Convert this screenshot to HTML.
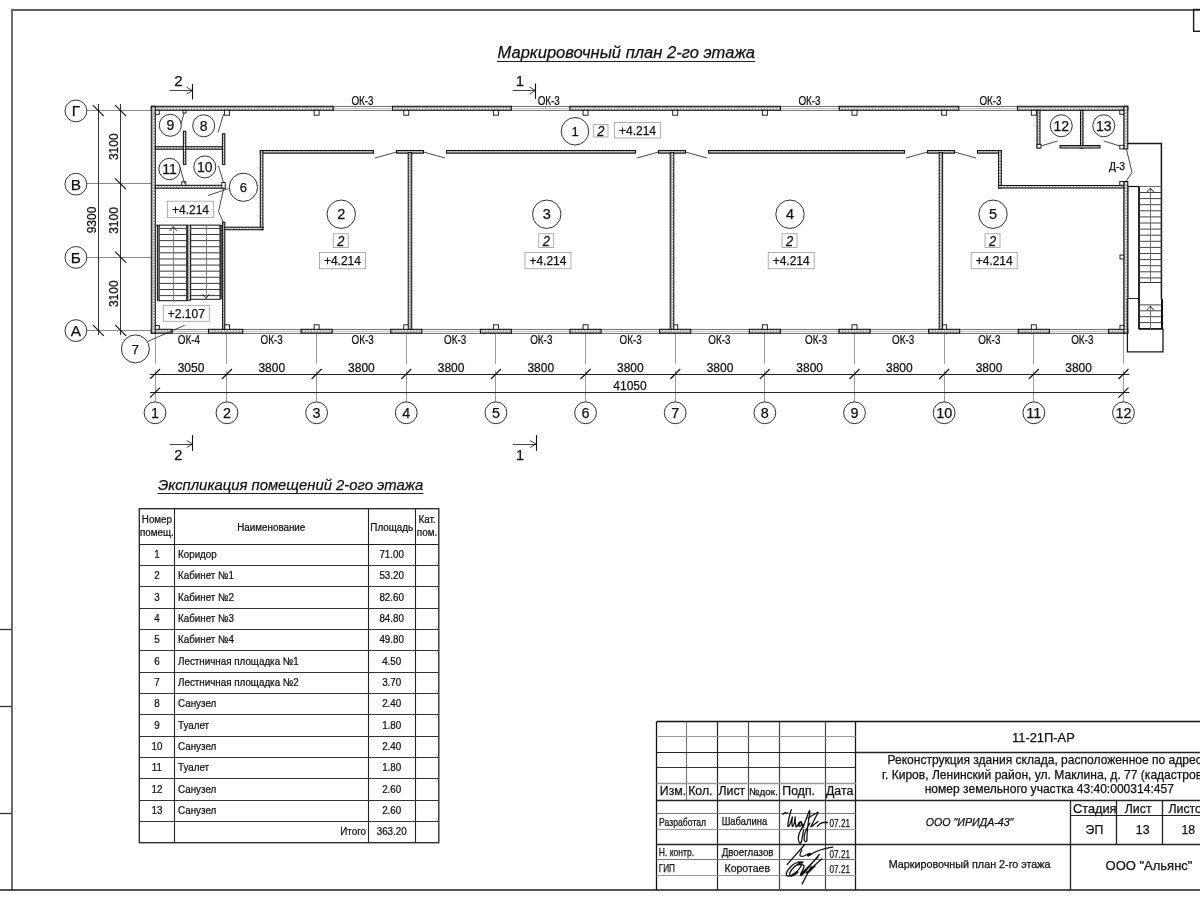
<!DOCTYPE html><html><head><meta charset="utf-8"><style>html,body{margin:0;padding:0;background:#fff;width:1200px;height:900px;overflow:hidden}svg{display:block;will-change:transform;font-family:"Liberation Sans",sans-serif}text{stroke:#111;stroke-width:0.25px}</style></head><body>
<svg width="1200" height="900" viewBox="0 0 1200 900">
<defs><pattern id="hatch" width="3" height="3" patternUnits="userSpaceOnUse"><rect width="3" height="3" fill="#a4a4a4"/><rect x="0" y="0" width="1.8" height="1.5" fill="#f2f2f2"/></pattern></defs>
<rect width="1200" height="900" fill="#fff"/>
<line x1="12" y1="10" x2="1200" y2="10" stroke="#2a2a2a" stroke-width="1.6" />
<line x1="12" y1="8.7" x2="12" y2="890.3" stroke="#6e6e6e" stroke-width="2.0" />
<line x1="0" y1="890" x2="1200" y2="890" stroke="#1a1a1a" stroke-width="1.6" />
<line x1="0" y1="629.5" x2="12" y2="629.5" stroke="#333" stroke-width="1.3" />
<line x1="0" y1="706.5" x2="12" y2="706.5" stroke="#333" stroke-width="1.3" />
<line x1="0" y1="813.5" x2="12" y2="813.5" stroke="#333" stroke-width="1.3" />
<rect x="1193.6" y="9.5" width="9.4" height="21.8" stroke="#1a1a1a" stroke-width="1.4" fill="none"/>
<text x="497.5" y="57.8" font-size="17.2" font-style="italic" fill="#111" textLength="257.5" lengthAdjust="spacingAndGlyphs">Маркировочный план 2-го этажа</text>
<line x1="497" y1="61.5" x2="755" y2="61.5" stroke="#222" stroke-width="1.0" />
<line x1="86.5" y1="110.5" x2="151.3" y2="110.5" stroke="#888" stroke-width="1.0" />
<line x1="86.5" y1="183.5" x2="151.3" y2="183.5" stroke="#888" stroke-width="1.0" />
<line x1="86.5" y1="257.5" x2="151.3" y2="257.5" stroke="#888" stroke-width="1.0" />
<line x1="86.5" y1="330.5" x2="151.3" y2="330.5" stroke="#888" stroke-width="1.0" />
<line x1="98.5" y1="104" x2="98.5" y2="335" stroke="#333" stroke-width="1.0" />
<line x1="120.5" y1="104" x2="120.5" y2="335" stroke="#333" stroke-width="1.0" />
<line x1="92.8" y1="105.1" x2="103.8" y2="116.1" stroke="#111" stroke-width="1.1" />
<line x1="92.8" y1="324.8" x2="103.8" y2="335.8" stroke="#111" stroke-width="1.1" />
<line x1="115.1" y1="105.1" x2="126.1" y2="116.1" stroke="#111" stroke-width="1.1" />
<line x1="115.1" y1="178.4" x2="126.1" y2="189.4" stroke="#111" stroke-width="1.1" />
<line x1="115.1" y1="251.6" x2="126.1" y2="262.6" stroke="#111" stroke-width="1.1" />
<line x1="115.1" y1="324.8" x2="126.1" y2="335.8" stroke="#111" stroke-width="1.1" />
<text x="96" y="220" font-size="12" text-anchor="middle" fill="#111" transform="rotate(-90 96 220)">9300</text>
<text x="118.2" y="146.7" font-size="12" text-anchor="middle" fill="#111" transform="rotate(-90 118.2 146.7)">3100</text>
<text x="118.2" y="220.5" font-size="12" text-anchor="middle" fill="#111" transform="rotate(-90 118.2 220.5)">3100</text>
<text x="118.2" y="293.7" font-size="12" text-anchor="middle" fill="#111" transform="rotate(-90 118.2 293.7)">3100</text>
<circle cx="75.9" cy="110.9" r="10.9" stroke="#1a1a1a" stroke-width="0.9" fill="white"/>
<text x="75.9" y="116.44" font-size="15.4" text-anchor="middle" fill="#111" >Г</text>
<circle cx="75.9" cy="184.2" r="10.9" stroke="#1a1a1a" stroke-width="0.9" fill="white"/>
<text x="75.9" y="189.74" font-size="15.4" text-anchor="middle" fill="#111" >В</text>
<circle cx="75.9" cy="257.4" r="10.9" stroke="#1a1a1a" stroke-width="0.9" fill="white"/>
<text x="75.9" y="262.94" font-size="15.4" text-anchor="middle" fill="#111" >Б</text>
<circle cx="75.9" cy="330.6" r="10.9" stroke="#1a1a1a" stroke-width="0.9" fill="white"/>
<text x="75.9" y="336.14" font-size="15.4" text-anchor="middle" fill="#111" >А</text>
<line x1="155.5" y1="333.5" x2="155.5" y2="364" stroke="#9a9a9a" stroke-width="1.0" />
<line x1="155.5" y1="370.5" x2="155.5" y2="401.8" stroke="#9a9a9a" stroke-width="1.0" />
<line x1="226.5" y1="333.5" x2="226.5" y2="364" stroke="#9a9a9a" stroke-width="1.0" />
<line x1="226.5" y1="370.5" x2="226.5" y2="401.8" stroke="#9a9a9a" stroke-width="1.0" />
<line x1="316.5" y1="333.5" x2="316.5" y2="364" stroke="#9a9a9a" stroke-width="1.0" />
<line x1="316.5" y1="370.5" x2="316.5" y2="401.8" stroke="#9a9a9a" stroke-width="1.0" />
<line x1="406.5" y1="333.5" x2="406.5" y2="364" stroke="#9a9a9a" stroke-width="1.0" />
<line x1="406.5" y1="370.5" x2="406.5" y2="401.8" stroke="#9a9a9a" stroke-width="1.0" />
<line x1="495.5" y1="333.5" x2="495.5" y2="364" stroke="#9a9a9a" stroke-width="1.0" />
<line x1="495.5" y1="370.5" x2="495.5" y2="401.8" stroke="#9a9a9a" stroke-width="1.0" />
<line x1="585.5" y1="333.5" x2="585.5" y2="364" stroke="#9a9a9a" stroke-width="1.0" />
<line x1="585.5" y1="370.5" x2="585.5" y2="401.8" stroke="#9a9a9a" stroke-width="1.0" />
<line x1="675.5" y1="333.5" x2="675.5" y2="364" stroke="#9a9a9a" stroke-width="1.0" />
<line x1="675.5" y1="370.5" x2="675.5" y2="401.8" stroke="#9a9a9a" stroke-width="1.0" />
<line x1="764.5" y1="333.5" x2="764.5" y2="364" stroke="#9a9a9a" stroke-width="1.0" />
<line x1="764.5" y1="370.5" x2="764.5" y2="401.8" stroke="#9a9a9a" stroke-width="1.0" />
<line x1="854.5" y1="333.5" x2="854.5" y2="364" stroke="#9a9a9a" stroke-width="1.0" />
<line x1="854.5" y1="370.5" x2="854.5" y2="401.8" stroke="#9a9a9a" stroke-width="1.0" />
<line x1="944.5" y1="333.5" x2="944.5" y2="364" stroke="#9a9a9a" stroke-width="1.0" />
<line x1="944.5" y1="370.5" x2="944.5" y2="401.8" stroke="#9a9a9a" stroke-width="1.0" />
<line x1="1033.5" y1="333.5" x2="1033.5" y2="364" stroke="#9a9a9a" stroke-width="1.0" />
<line x1="1033.5" y1="370.5" x2="1033.5" y2="401.8" stroke="#9a9a9a" stroke-width="1.0" />
<line x1="1123.5" y1="333.5" x2="1123.5" y2="364" stroke="#9a9a9a" stroke-width="1.0" />
<line x1="1123.5" y1="370.5" x2="1123.5" y2="401.8" stroke="#9a9a9a" stroke-width="1.0" />
<line x1="150" y1="374.5" x2="1129.5" y2="374.5" stroke="#262626" stroke-width="1.0" />
<line x1="150" y1="392.5" x2="1129.5" y2="392.5" stroke="#262626" stroke-width="1.0" />
<line x1="150" y1="379" x2="160" y2="369" stroke="#111" stroke-width="1.1" />
<line x1="221.96" y1="379" x2="231.96" y2="369" stroke="#111" stroke-width="1.1" />
<line x1="311.61" y1="379" x2="321.61" y2="369" stroke="#111" stroke-width="1.1" />
<line x1="401.26" y1="379" x2="411.26" y2="369" stroke="#111" stroke-width="1.1" />
<line x1="490.91" y1="379" x2="500.91" y2="369" stroke="#111" stroke-width="1.1" />
<line x1="580.56" y1="379" x2="590.56" y2="369" stroke="#111" stroke-width="1.1" />
<line x1="670.21" y1="379" x2="680.21" y2="369" stroke="#111" stroke-width="1.1" />
<line x1="759.86" y1="379" x2="769.86" y2="369" stroke="#111" stroke-width="1.1" />
<line x1="849.51" y1="379" x2="859.51" y2="369" stroke="#111" stroke-width="1.1" />
<line x1="939.16" y1="379" x2="949.16" y2="369" stroke="#111" stroke-width="1.1" />
<line x1="1028.81" y1="379" x2="1038.81" y2="369" stroke="#111" stroke-width="1.1" />
<line x1="1118.46" y1="379" x2="1128.46" y2="369" stroke="#111" stroke-width="1.1" />
<line x1="150" y1="397.7" x2="160" y2="387.7" stroke="#111" stroke-width="1.1" />
<line x1="1118.46" y1="397.7" x2="1128.46" y2="387.7" stroke="#111" stroke-width="1.1" />
<text x="190.98" y="371.92" font-size="12" text-anchor="middle" fill="#111" >3050</text>
<text x="271.78" y="371.92" font-size="12" text-anchor="middle" fill="#111" >3800</text>
<text x="361.44" y="371.92" font-size="12" text-anchor="middle" fill="#111" >3800</text>
<text x="451.08" y="371.92" font-size="12" text-anchor="middle" fill="#111" >3800</text>
<text x="540.73" y="371.92" font-size="12" text-anchor="middle" fill="#111" >3800</text>
<text x="630.38" y="371.92" font-size="12" text-anchor="middle" fill="#111" >3800</text>
<text x="720.03" y="371.92" font-size="12" text-anchor="middle" fill="#111" >3800</text>
<text x="809.68" y="371.92" font-size="12" text-anchor="middle" fill="#111" >3800</text>
<text x="899.33" y="371.92" font-size="12" text-anchor="middle" fill="#111" >3800</text>
<text x="988.98" y="371.92" font-size="12" text-anchor="middle" fill="#111" >3800</text>
<text x="1078.63" y="371.92" font-size="12" text-anchor="middle" fill="#111" >3800</text>
<text x="630" y="390.42" font-size="12" text-anchor="middle" fill="#111" >41050</text>
<circle cx="155" cy="412.8" r="10.9" stroke="#1a1a1a" stroke-width="0.9" fill="white"/>
<text x="155" y="417.98" font-size="14.4" text-anchor="middle" fill="#111" >1</text>
<circle cx="226.96" cy="412.8" r="10.9" stroke="#1a1a1a" stroke-width="0.9" fill="white"/>
<text x="226.96" y="417.98" font-size="14.4" text-anchor="middle" fill="#111" >2</text>
<circle cx="316.61" cy="412.8" r="10.9" stroke="#1a1a1a" stroke-width="0.9" fill="white"/>
<text x="316.61" y="417.98" font-size="14.4" text-anchor="middle" fill="#111" >3</text>
<circle cx="406.26" cy="412.8" r="10.9" stroke="#1a1a1a" stroke-width="0.9" fill="white"/>
<text x="406.26" y="417.98" font-size="14.4" text-anchor="middle" fill="#111" >4</text>
<circle cx="495.91" cy="412.8" r="10.9" stroke="#1a1a1a" stroke-width="0.9" fill="white"/>
<text x="495.91" y="417.98" font-size="14.4" text-anchor="middle" fill="#111" >5</text>
<circle cx="585.56" cy="412.8" r="10.9" stroke="#1a1a1a" stroke-width="0.9" fill="white"/>
<text x="585.56" y="417.98" font-size="14.4" text-anchor="middle" fill="#111" >6</text>
<circle cx="675.21" cy="412.8" r="10.9" stroke="#1a1a1a" stroke-width="0.9" fill="white"/>
<text x="675.21" y="417.98" font-size="14.4" text-anchor="middle" fill="#111" >7</text>
<circle cx="764.86" cy="412.8" r="10.9" stroke="#1a1a1a" stroke-width="0.9" fill="white"/>
<text x="764.86" y="417.98" font-size="14.4" text-anchor="middle" fill="#111" >8</text>
<circle cx="854.51" cy="412.8" r="10.9" stroke="#1a1a1a" stroke-width="0.9" fill="white"/>
<text x="854.51" y="417.98" font-size="14.4" text-anchor="middle" fill="#111" >9</text>
<circle cx="944.16" cy="412.8" r="10.9" stroke="#1a1a1a" stroke-width="0.9" fill="white"/>
<text x="944.16" y="417.98" font-size="14.4" text-anchor="middle" fill="#111" >10</text>
<circle cx="1033.81" cy="412.8" r="10.9" stroke="#1a1a1a" stroke-width="0.9" fill="white"/>
<text x="1033.81" y="417.98" font-size="14.4" text-anchor="middle" fill="#111" >11</text>
<circle cx="1123.46" cy="412.8" r="10.9" stroke="#1a1a1a" stroke-width="0.9" fill="white"/>
<text x="1123.46" y="417.98" font-size="14.4" text-anchor="middle" fill="#111" >12</text>
<line x1="192.5" y1="84" x2="192.5" y2="99.5" stroke="#111" stroke-width="1.1" />
<line x1="169.5" y1="90.5" x2="192.5" y2="90.5" stroke="#444" stroke-width="1.0" />
<line x1="186.5" y1="87.1" x2="192.5" y2="90.6" stroke="#111" stroke-width="0.8" />
<line x1="186.5" y1="94.1" x2="192.5" y2="90.6" stroke="#111" stroke-width="0.8" />
<text x="178.3" y="85.5" font-size="15" text-anchor="middle" fill="#111" >2</text>
<line x1="535.5" y1="83.5" x2="535.5" y2="98.8" stroke="#111" stroke-width="1.1" />
<line x1="512.5" y1="90.5" x2="535.5" y2="90.5" stroke="#444" stroke-width="1.0" />
<line x1="529.5" y1="87" x2="535.5" y2="90.5" stroke="#111" stroke-width="0.8" />
<line x1="529.5" y1="94" x2="535.5" y2="90.5" stroke="#111" stroke-width="0.8" />
<text x="520" y="85.9" font-size="15" text-anchor="middle" fill="#111" >1</text>
<line x1="192.5" y1="435.2" x2="192.5" y2="450.8" stroke="#111" stroke-width="1.1" />
<line x1="169.7" y1="444.5" x2="192.7" y2="444.5" stroke="#444" stroke-width="1.0" />
<line x1="186.7" y1="440.5" x2="192.7" y2="444" stroke="#111" stroke-width="0.8" />
<line x1="186.7" y1="447.5" x2="192.7" y2="444" stroke="#111" stroke-width="0.8" />
<text x="178.3" y="459.92" font-size="14.5" text-anchor="middle" fill="#111" >2</text>
<line x1="536.5" y1="435.2" x2="536.5" y2="450.8" stroke="#111" stroke-width="1.1" />
<line x1="513" y1="444.5" x2="536" y2="444.5" stroke="#444" stroke-width="1.0" />
<line x1="530" y1="440.5" x2="536" y2="444" stroke="#111" stroke-width="0.8" />
<line x1="530" y1="447.5" x2="536" y2="444" stroke="#111" stroke-width="0.8" />
<text x="520" y="459.92" font-size="14.5" text-anchor="middle" fill="#111" >1</text>
<rect x="333.25" y="106.3" width="59.25" height="4" stroke="#333" stroke-width="0.7" fill="white"/>
<line x1="333.25" y1="108.5" x2="392.5" y2="108.5" stroke="#888" stroke-width="0.5" />
<rect x="511.3" y="106.3" width="58.7" height="4" stroke="#333" stroke-width="0.7" fill="white"/>
<line x1="511.3" y1="108.5" x2="570" y2="108.5" stroke="#888" stroke-width="0.5" />
<rect x="780.5" y="106.3" width="58.75" height="4" stroke="#333" stroke-width="0.7" fill="white"/>
<line x1="780.5" y1="108.5" x2="839.25" y2="108.5" stroke="#888" stroke-width="0.5" />
<rect x="958.75" y="106.3" width="58.75" height="4" stroke="#333" stroke-width="0.7" fill="white"/>
<line x1="958.75" y1="108.5" x2="1017.5" y2="108.5" stroke="#888" stroke-width="0.5" />
<rect x="151.3" y="106.3" width="181.95" height="4" stroke="#111" stroke-width="1.05" fill="url(#hatch)"/>
<rect x="392.5" y="106.3" width="118.8" height="4" stroke="#111" stroke-width="1.05" fill="url(#hatch)"/>
<rect x="570" y="106.3" width="210.5" height="4" stroke="#111" stroke-width="1.05" fill="url(#hatch)"/>
<rect x="839.25" y="106.3" width="119.5" height="4" stroke="#111" stroke-width="1.05" fill="url(#hatch)"/>
<rect x="1017.5" y="106.3" width="110.3" height="4" stroke="#111" stroke-width="1.05" fill="url(#hatch)"/>
<rect x="172" y="329.3" width="36.5" height="4" stroke="#333" stroke-width="0.7" fill="white"/>
<line x1="172" y1="331.5" x2="208.5" y2="331.5" stroke="#888" stroke-width="0.5" />
<rect x="242.7" y="329.3" width="58.41" height="4" stroke="#333" stroke-width="0.7" fill="white"/>
<line x1="242.7" y1="331.5" x2="301.11" y2="331.5" stroke="#888" stroke-width="0.5" />
<rect x="332.11" y="329.3" width="58.65" height="4" stroke="#333" stroke-width="0.7" fill="white"/>
<line x1="332.11" y1="331.5" x2="390.76" y2="331.5" stroke="#888" stroke-width="0.5" />
<rect x="421.76" y="329.3" width="58.65" height="4" stroke="#333" stroke-width="0.7" fill="white"/>
<line x1="421.76" y1="331.5" x2="480.41" y2="331.5" stroke="#888" stroke-width="0.5" />
<rect x="511.41" y="329.3" width="58.65" height="4" stroke="#333" stroke-width="0.7" fill="white"/>
<line x1="511.41" y1="331.5" x2="570.06" y2="331.5" stroke="#888" stroke-width="0.5" />
<rect x="601.06" y="329.3" width="58.65" height="4" stroke="#333" stroke-width="0.7" fill="white"/>
<line x1="601.06" y1="331.5" x2="659.71" y2="331.5" stroke="#888" stroke-width="0.5" />
<rect x="690.71" y="329.3" width="58.65" height="4" stroke="#333" stroke-width="0.7" fill="white"/>
<line x1="690.71" y1="331.5" x2="749.36" y2="331.5" stroke="#888" stroke-width="0.5" />
<rect x="780.36" y="329.3" width="58.65" height="4" stroke="#333" stroke-width="0.7" fill="white"/>
<line x1="780.36" y1="331.5" x2="839.01" y2="331.5" stroke="#888" stroke-width="0.5" />
<rect x="870.01" y="329.3" width="58.65" height="4" stroke="#333" stroke-width="0.7" fill="white"/>
<line x1="870.01" y1="331.5" x2="928.66" y2="331.5" stroke="#888" stroke-width="0.5" />
<rect x="959.66" y="329.3" width="58.65" height="4" stroke="#333" stroke-width="0.7" fill="white"/>
<line x1="959.66" y1="331.5" x2="1018.31" y2="331.5" stroke="#888" stroke-width="0.5" />
<rect x="1049.31" y="329.3" width="59.19" height="4" stroke="#333" stroke-width="0.7" fill="white"/>
<line x1="1049.31" y1="331.5" x2="1108.5" y2="331.5" stroke="#888" stroke-width="0.5" />
<rect x="151.3" y="329.3" width="20.7" height="4" stroke="#111" stroke-width="1.05" fill="url(#hatch)"/>
<rect x="208.5" y="329.3" width="34.2" height="4" stroke="#111" stroke-width="1.05" fill="url(#hatch)"/>
<rect x="301.11" y="329.3" width="31" height="4" stroke="#111" stroke-width="1.05" fill="url(#hatch)"/>
<rect x="390.76" y="329.3" width="31" height="4" stroke="#111" stroke-width="1.05" fill="url(#hatch)"/>
<rect x="480.41" y="329.3" width="31" height="4" stroke="#111" stroke-width="1.05" fill="url(#hatch)"/>
<rect x="570.06" y="329.3" width="31" height="4" stroke="#111" stroke-width="1.05" fill="url(#hatch)"/>
<rect x="659.71" y="329.3" width="31" height="4" stroke="#111" stroke-width="1.05" fill="url(#hatch)"/>
<rect x="749.36" y="329.3" width="31" height="4" stroke="#111" stroke-width="1.05" fill="url(#hatch)"/>
<rect x="839.01" y="329.3" width="31" height="4" stroke="#111" stroke-width="1.05" fill="url(#hatch)"/>
<rect x="928.66" y="329.3" width="31" height="4" stroke="#111" stroke-width="1.05" fill="url(#hatch)"/>
<rect x="1018.31" y="329.3" width="31" height="4" stroke="#111" stroke-width="1.05" fill="url(#hatch)"/>
<rect x="1108.5" y="329.3" width="19.3" height="4" stroke="#111" stroke-width="1.05" fill="url(#hatch)"/>
<rect x="151.3" y="106.3" width="4" height="227" stroke="#111" stroke-width="1.05" fill="url(#hatch)"/>
<rect x="1123.8" y="106.3" width="4" height="42.6" stroke="#111" stroke-width="1.05" fill="url(#hatch)"/>
<rect x="1123.8" y="181.5" width="4" height="151.8" stroke="#111" stroke-width="1.05" fill="url(#hatch)"/>
<rect x="224.46" y="110.3" width="5" height="4.9" stroke="#111" stroke-width="0.9" fill="white"/>
<rect x="314.11" y="110.3" width="5" height="4.9" stroke="#111" stroke-width="0.9" fill="white"/>
<rect x="403.76" y="110.3" width="5" height="4.9" stroke="#111" stroke-width="0.9" fill="white"/>
<rect x="493.41" y="110.3" width="5" height="4.9" stroke="#111" stroke-width="0.9" fill="white"/>
<rect x="583.06" y="110.3" width="5" height="4.9" stroke="#111" stroke-width="0.9" fill="white"/>
<rect x="672.71" y="110.3" width="5" height="4.9" stroke="#111" stroke-width="0.9" fill="white"/>
<rect x="762.36" y="110.3" width="5" height="4.9" stroke="#111" stroke-width="0.9" fill="white"/>
<rect x="852.01" y="110.3" width="5" height="4.9" stroke="#111" stroke-width="0.9" fill="white"/>
<rect x="941.66" y="110.3" width="5" height="4.9" stroke="#111" stroke-width="0.9" fill="white"/>
<rect x="1031.31" y="110.3" width="5" height="4.9" stroke="#111" stroke-width="0.9" fill="white"/>
<rect x="155.3" y="110.3" width="4" height="4" stroke="#111" stroke-width="0.9" fill="white"/>
<rect x="1119.8" y="110.3" width="4" height="4" stroke="#111" stroke-width="0.9" fill="white"/>
<rect x="224.46" y="324.8" width="5" height="4.5" stroke="#111" stroke-width="0.9" fill="white"/>
<rect x="314.11" y="324.8" width="5" height="4.5" stroke="#111" stroke-width="0.9" fill="white"/>
<rect x="403.76" y="324.8" width="5" height="4.5" stroke="#111" stroke-width="0.9" fill="white"/>
<rect x="493.41" y="324.8" width="5" height="4.5" stroke="#111" stroke-width="0.9" fill="white"/>
<rect x="583.06" y="324.8" width="5" height="4.5" stroke="#111" stroke-width="0.9" fill="white"/>
<rect x="672.71" y="324.8" width="5" height="4.5" stroke="#111" stroke-width="0.9" fill="white"/>
<rect x="762.36" y="324.8" width="5" height="4.5" stroke="#111" stroke-width="0.9" fill="white"/>
<rect x="852.01" y="324.8" width="5" height="4.5" stroke="#111" stroke-width="0.9" fill="white"/>
<rect x="941.66" y="324.8" width="5" height="4.5" stroke="#111" stroke-width="0.9" fill="white"/>
<rect x="1031.31" y="324.8" width="5" height="4.5" stroke="#111" stroke-width="0.9" fill="white"/>
<rect x="155.3" y="325.5" width="4" height="3.8" stroke="#111" stroke-width="0.9" fill="white"/>
<rect x="1120" y="325.3" width="3.8" height="4" stroke="#111" stroke-width="0.9" fill="white"/>
<rect x="396.5" y="150.5" width="27" height="2.7" stroke="#111" stroke-width="1.05" fill="url(#hatch)"/>
<line x1="396.5" y1="152" x2="375" y2="158" stroke="#1a1a1a" stroke-width="0.8" />
<line x1="423.5" y1="152" x2="445" y2="158" stroke="#1a1a1a" stroke-width="0.8" />
<rect x="658.5" y="150.5" width="27" height="2.7" stroke="#111" stroke-width="1.05" fill="url(#hatch)"/>
<line x1="658.5" y1="152" x2="637" y2="158" stroke="#1a1a1a" stroke-width="0.8" />
<line x1="685.5" y1="152" x2="707" y2="158" stroke="#1a1a1a" stroke-width="0.8" />
<rect x="927.5" y="150.5" width="27" height="2.7" stroke="#111" stroke-width="1.05" fill="url(#hatch)"/>
<line x1="927.5" y1="152" x2="906" y2="158" stroke="#1a1a1a" stroke-width="0.8" />
<line x1="954.5" y1="152" x2="976" y2="158" stroke="#1a1a1a" stroke-width="0.8" />
<rect x="260.3" y="150.5" width="113.2" height="2.7" stroke="#111" stroke-width="1.05" fill="url(#hatch)"/>
<rect x="446.5" y="150.5" width="189" height="2.7" stroke="#111" stroke-width="1.05" fill="url(#hatch)"/>
<rect x="708.5" y="150.5" width="196" height="2.7" stroke="#111" stroke-width="1.05" fill="url(#hatch)"/>
<rect x="977.5" y="150.5" width="23.8" height="2.7" stroke="#111" stroke-width="1.05" fill="url(#hatch)"/>
<rect x="260.3" y="150.5" width="2.6" height="79.2" stroke="#111" stroke-width="1.05" fill="url(#hatch)"/>
<rect x="222.7" y="227.2" width="40.2" height="2.5" stroke="#111" stroke-width="1.05" fill="url(#hatch)"/>
<rect x="408.2" y="152.7" width="3.5" height="176.6" stroke="#111" stroke-width="1.05" fill="url(#hatch)"/>
<rect x="670.2" y="152.7" width="3.6" height="176.6" stroke="#111" stroke-width="1.05" fill="url(#hatch)"/>
<rect x="939.2" y="152.7" width="3.4" height="176.6" stroke="#111" stroke-width="1.05" fill="url(#hatch)"/>
<rect x="998.6" y="150.5" width="2.7" height="37.5" stroke="#111" stroke-width="1.05" fill="url(#hatch)"/>
<rect x="998.6" y="185.5" width="125.2" height="2.5" stroke="#111" stroke-width="1.05" fill="url(#hatch)"/>
<rect x="222.6" y="222.3" width="2.2" height="107" stroke="#111" stroke-width="1.05" fill="url(#hatch)"/>
<rect x="155.3" y="146.7" width="67.3" height="2.5" stroke="#111" stroke-width="1.05" fill="url(#hatch)"/>
<rect x="183.4" y="131.3" width="2.4" height="33.1" stroke="#111" stroke-width="1.05" fill="url(#hatch)"/>
<rect x="222.4" y="133.8" width="2.4" height="30.6" stroke="#111" stroke-width="1.05" fill="url(#hatch)"/>
<rect x="155.3" y="185.3" width="69.5" height="2.9" stroke="#111" stroke-width="1.05" fill="url(#hatch)"/>
<rect x="221.8" y="182.5" width="3.4" height="5.7" stroke="#111" stroke-width="0.9" fill="white"/>
<rect x="181.8" y="181.8" width="4" height="3.5" stroke="#111" stroke-width="0.9" fill="white"/>
<line x1="184.5" y1="111.3" x2="179.5" y2="129.5" stroke="#1a1a1a" stroke-width="0.8" />
<rect x="183" y="110.3" width="3" height="2.7" stroke="#111" stroke-width="0.9" fill="white"/>
<line x1="223.7" y1="113.8" x2="218" y2="132.5" stroke="#1a1a1a" stroke-width="0.8" />
<line x1="179.3" y1="164.9" x2="184.7" y2="183.6" stroke="#1a1a1a" stroke-width="0.8" />
<line x1="218.3" y1="165.5" x2="223.7" y2="183" stroke="#1a1a1a" stroke-width="0.8" />
<polyline points="223.7,188.4 218.5,211.5 223.7,223" stroke="#1a1a1a" stroke-width="0.8" fill="none"/>
<rect x="1037" y="110.3" width="3" height="37.7" stroke="#111" stroke-width="1.05" fill="url(#hatch)"/>
<rect x="1080.5" y="110.3" width="2.5" height="37.7" stroke="#111" stroke-width="1.05" fill="url(#hatch)"/>
<rect x="1060" y="145.5" width="40" height="2.5" stroke="#111" stroke-width="1.05" fill="url(#hatch)"/>
<rect x="1037" y="144.5" width="4" height="3.5" stroke="#111" stroke-width="0.9" fill="white"/>
<rect x="1119.8" y="145.3" width="4" height="3.6" stroke="#111" stroke-width="0.9" fill="white"/>
<line x1="1041" y1="146" x2="1057.5" y2="141" stroke="#1a1a1a" stroke-width="0.8" />
<line x1="1103.8" y1="141" x2="1120" y2="146" stroke="#1a1a1a" stroke-width="0.8" />
<polyline points="1126.4,148.9 1132,172.5 1126.4,180.8" stroke="#1a1a1a" stroke-width="0.8" fill="none"/>
<rect x="1119.8" y="181.5" width="4" height="3.7" stroke="#111" stroke-width="0.9" fill="white"/>
<rect x="1120" y="255.1" width="3.8" height="3.9" stroke="#111" stroke-width="0.9" fill="white"/>
<text x="1117" y="169.51" font-size="10.3" text-anchor="middle" fill="#111" >Д-3</text>
<line x1="155.6" y1="225.5" x2="222.6" y2="225.5" stroke="#111" stroke-width="1.2" />
<rect x="158" y="225.1" width="28.7" height="75.6" stroke="#111" stroke-width="1.0" fill="white"/>
<rect x="190.7" y="225.1" width="29.3" height="74.2" stroke="#111" stroke-width="1.0" fill="white"/>
<rect x="187.6" y="225.1" width="2.8" height="75.6" stroke="#111" stroke-width="0.8" fill="url(#hatch)"/>
<line x1="221" y1="225.1" x2="221" y2="299.3" stroke="#111" stroke-width="1.4" />
<line x1="159.5" y1="225.1" x2="159.5" y2="300.7" stroke="#111" stroke-width="0.7" />
<line x1="159.4" y1="228.4" x2="186.7" y2="228.4" stroke="#3a3a3a" stroke-width="1.0" />
<line x1="190.7" y1="228.4" x2="220" y2="228.4" stroke="#3a3a3a" stroke-width="1.0" />
<line x1="159.4" y1="234.51" x2="186.7" y2="234.51" stroke="#3a3a3a" stroke-width="1.0" />
<line x1="190.7" y1="234.51" x2="220" y2="234.51" stroke="#3a3a3a" stroke-width="1.0" />
<line x1="159.4" y1="240.62" x2="186.7" y2="240.62" stroke="#3a3a3a" stroke-width="1.0" />
<line x1="190.7" y1="240.62" x2="220" y2="240.62" stroke="#3a3a3a" stroke-width="1.0" />
<line x1="159.4" y1="246.73" x2="186.7" y2="246.73" stroke="#3a3a3a" stroke-width="1.0" />
<line x1="190.7" y1="246.73" x2="220" y2="246.73" stroke="#3a3a3a" stroke-width="1.0" />
<line x1="159.4" y1="252.84" x2="186.7" y2="252.84" stroke="#3a3a3a" stroke-width="1.0" />
<line x1="190.7" y1="252.84" x2="220" y2="252.84" stroke="#3a3a3a" stroke-width="1.0" />
<line x1="159.4" y1="258.95" x2="186.7" y2="258.95" stroke="#3a3a3a" stroke-width="1.0" />
<line x1="190.7" y1="258.95" x2="220" y2="258.95" stroke="#3a3a3a" stroke-width="1.0" />
<line x1="159.4" y1="265.06" x2="186.7" y2="265.06" stroke="#3a3a3a" stroke-width="1.0" />
<line x1="190.7" y1="265.06" x2="220" y2="265.06" stroke="#3a3a3a" stroke-width="1.0" />
<line x1="159.4" y1="271.17" x2="186.7" y2="271.17" stroke="#3a3a3a" stroke-width="1.0" />
<line x1="190.7" y1="271.17" x2="220" y2="271.17" stroke="#3a3a3a" stroke-width="1.0" />
<line x1="159.4" y1="277.28" x2="186.7" y2="277.28" stroke="#3a3a3a" stroke-width="1.0" />
<line x1="190.7" y1="277.28" x2="220" y2="277.28" stroke="#3a3a3a" stroke-width="1.0" />
<line x1="159.4" y1="283.39" x2="186.7" y2="283.39" stroke="#3a3a3a" stroke-width="1.0" />
<line x1="190.7" y1="283.39" x2="220" y2="283.39" stroke="#3a3a3a" stroke-width="1.0" />
<line x1="159.4" y1="289.5" x2="186.7" y2="289.5" stroke="#3a3a3a" stroke-width="1.0" />
<line x1="190.7" y1="289.5" x2="220" y2="289.5" stroke="#3a3a3a" stroke-width="1.0" />
<line x1="159.4" y1="295.61" x2="186.7" y2="295.61" stroke="#3a3a3a" stroke-width="1.0" />
<line x1="190.7" y1="295.61" x2="220" y2="295.61" stroke="#3a3a3a" stroke-width="1.0" />
<line x1="157.5" y1="225.1" x2="157.5" y2="300.7" stroke="#222" stroke-width="1.3" />
<line x1="173.5" y1="226.5" x2="173.5" y2="301.5" stroke="#777" stroke-width="0.9" />
<polyline points="169.8,231 173.3,226.5 176.8,231" stroke="#111" stroke-width="0.8" fill="none"/>
<line x1="206.5" y1="226" x2="206.5" y2="298.5" stroke="#777" stroke-width="0.9" />
<polyline points="202.5,294 206,298.5 209.5,294" stroke="#111" stroke-width="0.8" fill="none"/>
<polyline points="1127.8,143.6 1161.4,143.6 1161.4,299" stroke="#1a1a1a" stroke-width="1.5" fill="none"/>
<line x1="1162" y1="299" x2="1162" y2="329" stroke="#111" stroke-width="2.0" />
<polyline points="1127.4,298.8 1127.4,351.8 1163,351.8 1163,328.5" stroke="#1a1a1a" stroke-width="1.3" fill="none"/>
<line x1="1127.4" y1="298.5" x2="1138.5" y2="298.5" stroke="#333" stroke-width="1.0" />
<line x1="1127.8" y1="186.5" x2="1139.2" y2="186.5" stroke="#111" stroke-width="1.2" />
<line x1="1139" y1="186.4" x2="1139" y2="329" stroke="#111" stroke-width="1.8" />
<line x1="1139.2" y1="186.5" x2="1161.4" y2="186.5" stroke="#666" stroke-width="1.0" />
<line x1="1128.5" y1="186.4" x2="1128.5" y2="298.8" stroke="#555" stroke-width="0.6" />
<line x1="1139.2" y1="192.5" x2="1161.4" y2="192.5" stroke="#444" stroke-width="1.0" />
<line x1="1139.2" y1="198.6" x2="1161.4" y2="198.6" stroke="#444" stroke-width="1.0" />
<line x1="1139.2" y1="204.7" x2="1161.4" y2="204.7" stroke="#444" stroke-width="1.0" />
<line x1="1139.2" y1="210.8" x2="1161.4" y2="210.8" stroke="#444" stroke-width="1.0" />
<line x1="1139.2" y1="216.9" x2="1161.4" y2="216.9" stroke="#444" stroke-width="1.0" />
<line x1="1139.2" y1="223" x2="1161.4" y2="223" stroke="#444" stroke-width="1.0" />
<line x1="1139.2" y1="229.1" x2="1161.4" y2="229.1" stroke="#444" stroke-width="1.0" />
<line x1="1139.2" y1="235.2" x2="1161.4" y2="235.2" stroke="#444" stroke-width="1.0" />
<line x1="1139.2" y1="241.3" x2="1161.4" y2="241.3" stroke="#444" stroke-width="1.0" />
<line x1="1139.2" y1="247.4" x2="1161.4" y2="247.4" stroke="#444" stroke-width="1.0" />
<line x1="1139.2" y1="253.5" x2="1161.4" y2="253.5" stroke="#444" stroke-width="1.0" />
<line x1="1139.2" y1="259.6" x2="1161.4" y2="259.6" stroke="#444" stroke-width="1.0" />
<line x1="1139.2" y1="265.7" x2="1161.4" y2="265.7" stroke="#444" stroke-width="1.0" />
<line x1="1139.2" y1="271.8" x2="1161.4" y2="271.8" stroke="#444" stroke-width="1.0" />
<line x1="1139.2" y1="277.9" x2="1161.4" y2="277.9" stroke="#444" stroke-width="1.0" />
<line x1="1139.2" y1="282.5" x2="1161.4" y2="282.5" stroke="#333" stroke-width="1.0" />
<line x1="1139.2" y1="304.9" x2="1161.4" y2="304.9" stroke="#444" stroke-width="1.0" />
<line x1="1139.2" y1="310.8" x2="1161.4" y2="310.8" stroke="#444" stroke-width="1.0" />
<line x1="1139.2" y1="316.7" x2="1161.4" y2="316.7" stroke="#444" stroke-width="1.0" />
<line x1="1139.2" y1="322.6" x2="1161.4" y2="322.6" stroke="#444" stroke-width="1.0" />
<line x1="1139.2" y1="328.5" x2="1161.4" y2="328.5" stroke="#444" stroke-width="1.0" />
<line x1="1139" y1="329" x2="1162.5" y2="329" stroke="#111" stroke-width="1.6" />
<line x1="1150.5" y1="188" x2="1150.5" y2="282" stroke="#666" stroke-width="0.9" />
<polyline points="1147,192 1150.3,188 1153.6,192" stroke="#1a1a1a" stroke-width="0.9" fill="none"/>
<line x1="1150.5" y1="306" x2="1150.5" y2="329" stroke="#666" stroke-width="0.9" />
<polyline points="1147,310 1150.3,306 1153.6,310" stroke="#1a1a1a" stroke-width="0.9" fill="none"/>
<text transform="matrix(0.81 0 0 1 362.5 104.79)" font-size="12.2" text-anchor="middle" fill="#111" >ОК-3</text>
<text transform="matrix(0.81 0 0 1 548.75 104.79)" font-size="12.2" text-anchor="middle" fill="#111" >ОК-3</text>
<text transform="matrix(0.81 0 0 1 809.5 104.79)" font-size="12.2" text-anchor="middle" fill="#111" >ОК-3</text>
<text transform="matrix(0.81 0 0 1 990.5 104.79)" font-size="12.2" text-anchor="middle" fill="#111" >ОК-3</text>
<text transform="matrix(0.81 0 0 1 188.95 343.69)" font-size="12.2" text-anchor="middle" fill="#111" >ОК-4</text>
<text transform="matrix(0.81 0 0 1 271.7 343.69)" font-size="12.2" text-anchor="middle" fill="#111" >ОК-3</text>
<text transform="matrix(0.81 0 0 1 362.7 343.69)" font-size="12.2" text-anchor="middle" fill="#111" >ОК-3</text>
<text transform="matrix(0.81 0 0 1 455.2 343.69)" font-size="12.2" text-anchor="middle" fill="#111" >ОК-3</text>
<text transform="matrix(0.81 0 0 1 541.3 343.69)" font-size="12.2" text-anchor="middle" fill="#111" >ОК-3</text>
<text transform="matrix(0.81 0 0 1 630.7 343.69)" font-size="12.2" text-anchor="middle" fill="#111" >ОК-3</text>
<text transform="matrix(0.81 0 0 1 719.4 343.69)" font-size="12.2" text-anchor="middle" fill="#111" >ОК-3</text>
<text transform="matrix(0.81 0 0 1 816.1 343.69)" font-size="12.2" text-anchor="middle" fill="#111" >ОК-3</text>
<text transform="matrix(0.81 0 0 1 903.1 343.69)" font-size="12.2" text-anchor="middle" fill="#111" >ОК-3</text>
<text transform="matrix(0.81 0 0 1 989.3 343.69)" font-size="12.2" text-anchor="middle" fill="#111" >ОК-3</text>
<text transform="matrix(0.81 0 0 1 1082.3 343.69)" font-size="12.2" text-anchor="middle" fill="#111" >ОК-3</text>
<circle cx="341.25" cy="214.25" r="14.2" stroke="#1a1a1a" stroke-width="0.9" fill="white"/>
<text x="341.25" y="219.47" font-size="14.5" text-anchor="middle" fill="#111" >2</text>
<rect x="333.25" y="233.75" width="15" height="13.8" stroke="#9a9a9a" stroke-width="0.8" fill="white"/>
<text transform="matrix(0.92 0 0 1 340.75 245.89)" font-size="14" text-anchor="middle" fill="#111" font-style="italic" >2</text>
<rect x="319.45" y="252.55" width="46" height="16.2" stroke="#9a9a9a" stroke-width="0.8" fill="white"/>
<text x="342.45" y="264.97" font-size="12" text-anchor="middle" fill="#111" >+4.214</text>
<circle cx="546.75" cy="214.25" r="14.2" stroke="#1a1a1a" stroke-width="0.9" fill="white"/>
<text x="546.75" y="219.47" font-size="14.5" text-anchor="middle" fill="#111" >3</text>
<rect x="538.75" y="233.75" width="15" height="13.8" stroke="#9a9a9a" stroke-width="0.8" fill="white"/>
<text transform="matrix(0.92 0 0 1 546.25 245.89)" font-size="14" text-anchor="middle" fill="#111" font-style="italic" >2</text>
<rect x="524.95" y="252.55" width="46" height="16.2" stroke="#9a9a9a" stroke-width="0.8" fill="white"/>
<text x="547.95" y="264.97" font-size="12" text-anchor="middle" fill="#111" >+4.214</text>
<circle cx="790" cy="214.25" r="14.2" stroke="#1a1a1a" stroke-width="0.9" fill="white"/>
<text x="790" y="219.47" font-size="14.5" text-anchor="middle" fill="#111" >4</text>
<rect x="782" y="233.75" width="15" height="13.8" stroke="#9a9a9a" stroke-width="0.8" fill="white"/>
<text transform="matrix(0.92 0 0 1 789.5 245.89)" font-size="14" text-anchor="middle" fill="#111" font-style="italic" >2</text>
<rect x="768.2" y="252.55" width="46" height="16.2" stroke="#9a9a9a" stroke-width="0.8" fill="white"/>
<text x="791.2" y="264.97" font-size="12" text-anchor="middle" fill="#111" >+4.214</text>
<circle cx="993" cy="214.25" r="14.2" stroke="#1a1a1a" stroke-width="0.9" fill="white"/>
<text x="993" y="219.47" font-size="14.5" text-anchor="middle" fill="#111" >5</text>
<rect x="985" y="233.75" width="15" height="13.8" stroke="#9a9a9a" stroke-width="0.8" fill="white"/>
<text transform="matrix(0.92 0 0 1 992.5 245.89)" font-size="14" text-anchor="middle" fill="#111" font-style="italic" >2</text>
<rect x="971.2" y="252.55" width="46" height="16.2" stroke="#9a9a9a" stroke-width="0.8" fill="white"/>
<text x="994.2" y="264.97" font-size="12" text-anchor="middle" fill="#111" >+4.214</text>
<circle cx="575" cy="131.25" r="13.75" stroke="#1a1a1a" stroke-width="0.9" fill="white"/>
<text x="575" y="135.93" font-size="13" text-anchor="middle" fill="#111" >1</text>
<rect x="593.75" y="124.5" width="14.25" height="12.5" stroke="#9a9a9a" stroke-width="0.8" fill="white"/>
<text transform="matrix(0.92 0 0 1 600.9 135.94)" font-size="14" text-anchor="middle" fill="#111" font-style="italic" >2</text>
<rect x="614.5" y="122.5" width="46" height="15.5" stroke="#9a9a9a" stroke-width="0.8" fill="white"/>
<text x="637.5" y="134.62" font-size="12" text-anchor="middle" fill="#111" >+4.214</text>
<circle cx="170.3" cy="125.3" r="11" stroke="#1a1a1a" stroke-width="0.9" fill="white"/>
<text x="170.3" y="130.34" font-size="14" text-anchor="middle" fill="#111" >9</text>
<circle cx="203.7" cy="125.8" r="11" stroke="#1a1a1a" stroke-width="0.9" fill="white"/>
<text x="203.7" y="130.84" font-size="14" text-anchor="middle" fill="#111" >8</text>
<circle cx="169.5" cy="169" r="10.7" stroke="#1a1a1a" stroke-width="0.9" fill="white"/>
<text x="169.5" y="174.04" font-size="14" text-anchor="middle" fill="#111" >11</text>
<circle cx="204.8" cy="166.9" r="11" stroke="#1a1a1a" stroke-width="0.9" fill="white"/>
<text x="204.8" y="171.94" font-size="14" text-anchor="middle" fill="#111" >10</text>
<circle cx="1061.25" cy="125.75" r="11" stroke="#1a1a1a" stroke-width="0.9" fill="white"/>
<text x="1061.25" y="130.79" font-size="14" text-anchor="middle" fill="#111" >12</text>
<circle cx="1103.75" cy="125.75" r="11" stroke="#1a1a1a" stroke-width="0.9" fill="white"/>
<text x="1103.75" y="130.79" font-size="14" text-anchor="middle" fill="#111" >13</text>
<line x1="228.5" y1="188.6" x2="208" y2="195.5" stroke="#1a1a1a" stroke-width="0.8" />
<circle cx="243.4" cy="187.3" r="14.1" stroke="#1a1a1a" stroke-width="0.9" fill="white"/>
<text x="243.4" y="191.98" font-size="13" text-anchor="middle" fill="#111" >6</text>
<line x1="147.5" y1="341.5" x2="184.7" y2="325.3" stroke="#1a1a1a" stroke-width="0.8" />
<circle cx="135.4" cy="348.9" r="14" stroke="#1a1a1a" stroke-width="0.9" fill="white"/>
<text x="135.4" y="353.58" font-size="13" text-anchor="middle" fill="#111" >7</text>
<rect x="167.3" y="201.2" width="46.4" height="16.3" stroke="#9a9a9a" stroke-width="0.8" fill="white"/>
<text x="190.5" y="213.62" font-size="12" text-anchor="middle" fill="#111" >+4.214</text>
<rect x="163.3" y="305.3" width="46" height="16" stroke="#9a9a9a" stroke-width="0.8" fill="white"/>
<text x="186.3" y="317.62" font-size="12" text-anchor="middle" fill="#111" >+2.107</text>
<text x="158" y="489.8" font-size="15.2" font-style="italic" fill="#111" textLength="265.3" lengthAdjust="spacingAndGlyphs">Экспликация помещений 2-ого этажа</text>
<line x1="157.5" y1="493.5" x2="423.5" y2="493.5" stroke="#222" stroke-width="1.0" />
<rect x="139.3" y="508.7" width="299.5" height="334.02" stroke="#222" stroke-width="1.3" fill="none"/>
<line x1="174.5" y1="508.7" x2="174.5" y2="842.72" stroke="#222" stroke-width="1.1" />
<line x1="368.5" y1="508.7" x2="368.5" y2="842.72" stroke="#222" stroke-width="1.1" />
<line x1="415.5" y1="508.7" x2="415.5" y2="842.72" stroke="#222" stroke-width="1.1" />
<line x1="139.3" y1="544.5" x2="438.8" y2="544.5" stroke="#222" stroke-width="1.1" />
<line x1="139.3" y1="565.5" x2="438.8" y2="565.5" stroke="#333" stroke-width="1.0" />
<line x1="139.3" y1="586.5" x2="438.8" y2="586.5" stroke="#333" stroke-width="1.0" />
<line x1="139.3" y1="608.5" x2="438.8" y2="608.5" stroke="#333" stroke-width="1.0" />
<line x1="139.3" y1="629.5" x2="438.8" y2="629.5" stroke="#333" stroke-width="1.0" />
<line x1="139.3" y1="650.5" x2="438.8" y2="650.5" stroke="#333" stroke-width="1.0" />
<line x1="139.3" y1="672.5" x2="438.8" y2="672.5" stroke="#333" stroke-width="1.0" />
<line x1="139.3" y1="693.5" x2="438.8" y2="693.5" stroke="#333" stroke-width="1.0" />
<line x1="139.3" y1="714.5" x2="438.8" y2="714.5" stroke="#333" stroke-width="1.0" />
<line x1="139.3" y1="736.5" x2="438.8" y2="736.5" stroke="#333" stroke-width="1.0" />
<line x1="139.3" y1="757.5" x2="438.8" y2="757.5" stroke="#333" stroke-width="1.0" />
<line x1="139.3" y1="778.5" x2="438.8" y2="778.5" stroke="#333" stroke-width="1.0" />
<line x1="139.3" y1="800.5" x2="438.8" y2="800.5" stroke="#333" stroke-width="1.0" />
<line x1="139.3" y1="821.5" x2="438.8" y2="821.5" stroke="#333" stroke-width="1.0" />
<text transform="matrix(0.91 0 0 1 156.9 523.34)" font-size="10.8" text-anchor="middle" fill="#111" >Номер</text>
<text transform="matrix(0.91 0 0 1 156.9 536.44)" font-size="10.8" text-anchor="middle" fill="#111" >помещ.</text>
<text transform="matrix(0.91 0 0 1 271.3 530.74)" font-size="10.8" text-anchor="middle" fill="#111" >Наименование</text>
<text transform="matrix(0.91 0 0 1 391.7 530.74)" font-size="10.8" text-anchor="middle" fill="#111" >Площадь</text>
<text transform="matrix(0.91 0 0 1 427 523.34)" font-size="10.8" text-anchor="middle" fill="#111" >Кат.</text>
<text transform="matrix(0.91 0 0 1 427 536.44)" font-size="10.8" text-anchor="middle" fill="#111" >пом.</text>
<text transform="matrix(0.91 0 0 1 156.9 558)" font-size="10.8" text-anchor="middle" fill="#111" >1</text>
<text transform="matrix(0.91 0 0 1 178 558)" font-size="10.8" text-anchor="start" fill="#111" >Коридор</text>
<text transform="matrix(0.91 0 0 1 391.7 558)" font-size="10.8" text-anchor="middle" fill="#111" >71.00</text>
<text transform="matrix(0.91 0 0 1 156.9 579.34)" font-size="10.8" text-anchor="middle" fill="#111" >2</text>
<text transform="matrix(0.91 0 0 1 178 579.34)" font-size="10.8" text-anchor="start" fill="#111" >Кабинет №1</text>
<text transform="matrix(0.91 0 0 1 391.7 579.34)" font-size="10.8" text-anchor="middle" fill="#111" >53.20</text>
<text transform="matrix(0.91 0 0 1 156.9 600.67)" font-size="10.8" text-anchor="middle" fill="#111" >3</text>
<text transform="matrix(0.91 0 0 1 178 600.67)" font-size="10.8" text-anchor="start" fill="#111" >Кабинет №2</text>
<text transform="matrix(0.91 0 0 1 391.7 600.67)" font-size="10.8" text-anchor="middle" fill="#111" >82.60</text>
<text transform="matrix(0.91 0 0 1 156.9 622)" font-size="10.8" text-anchor="middle" fill="#111" >4</text>
<text transform="matrix(0.91 0 0 1 178 622)" font-size="10.8" text-anchor="start" fill="#111" >Кабинет №3</text>
<text transform="matrix(0.91 0 0 1 391.7 622)" font-size="10.8" text-anchor="middle" fill="#111" >84.80</text>
<text transform="matrix(0.91 0 0 1 156.9 643.33)" font-size="10.8" text-anchor="middle" fill="#111" >5</text>
<text transform="matrix(0.91 0 0 1 178 643.33)" font-size="10.8" text-anchor="start" fill="#111" >Кабинет №4</text>
<text transform="matrix(0.91 0 0 1 391.7 643.33)" font-size="10.8" text-anchor="middle" fill="#111" >49.80</text>
<text transform="matrix(0.91 0 0 1 156.9 664.65)" font-size="10.8" text-anchor="middle" fill="#111" >6</text>
<text transform="matrix(0.91 0 0 1 178 664.65)" font-size="10.8" text-anchor="start" fill="#111" >Лестничная площадка №1</text>
<text transform="matrix(0.91 0 0 1 391.7 664.65)" font-size="10.8" text-anchor="middle" fill="#111" >4.50</text>
<text transform="matrix(0.91 0 0 1 156.9 685.99)" font-size="10.8" text-anchor="middle" fill="#111" >7</text>
<text transform="matrix(0.91 0 0 1 178 685.99)" font-size="10.8" text-anchor="start" fill="#111" >Лестничная площадка №2</text>
<text transform="matrix(0.91 0 0 1 391.7 685.99)" font-size="10.8" text-anchor="middle" fill="#111" >3.70</text>
<text transform="matrix(0.91 0 0 1 156.9 707.32)" font-size="10.8" text-anchor="middle" fill="#111" >8</text>
<text transform="matrix(0.91 0 0 1 178 707.32)" font-size="10.8" text-anchor="start" fill="#111" >Санузел</text>
<text transform="matrix(0.91 0 0 1 391.7 707.32)" font-size="10.8" text-anchor="middle" fill="#111" >2.40</text>
<text transform="matrix(0.91 0 0 1 156.9 728.64)" font-size="10.8" text-anchor="middle" fill="#111" >9</text>
<text transform="matrix(0.91 0 0 1 178 728.64)" font-size="10.8" text-anchor="start" fill="#111" >Туалет</text>
<text transform="matrix(0.91 0 0 1 391.7 728.64)" font-size="10.8" text-anchor="middle" fill="#111" >1.80</text>
<text transform="matrix(0.91 0 0 1 156.9 749.98)" font-size="10.8" text-anchor="middle" fill="#111" >10</text>
<text transform="matrix(0.91 0 0 1 178 749.98)" font-size="10.8" text-anchor="start" fill="#111" >Санузел</text>
<text transform="matrix(0.91 0 0 1 391.7 749.98)" font-size="10.8" text-anchor="middle" fill="#111" >2.40</text>
<text transform="matrix(0.91 0 0 1 156.9 771.31)" font-size="10.8" text-anchor="middle" fill="#111" >11</text>
<text transform="matrix(0.91 0 0 1 178 771.31)" font-size="10.8" text-anchor="start" fill="#111" >Туалет</text>
<text transform="matrix(0.91 0 0 1 391.7 771.31)" font-size="10.8" text-anchor="middle" fill="#111" >1.80</text>
<text transform="matrix(0.91 0 0 1 156.9 792.63)" font-size="10.8" text-anchor="middle" fill="#111" >12</text>
<text transform="matrix(0.91 0 0 1 178 792.63)" font-size="10.8" text-anchor="start" fill="#111" >Санузел</text>
<text transform="matrix(0.91 0 0 1 391.7 792.63)" font-size="10.8" text-anchor="middle" fill="#111" >2.60</text>
<text transform="matrix(0.91 0 0 1 156.9 813.97)" font-size="10.8" text-anchor="middle" fill="#111" >13</text>
<text transform="matrix(0.91 0 0 1 178 813.97)" font-size="10.8" text-anchor="start" fill="#111" >Санузел</text>
<text transform="matrix(0.91 0 0 1 391.7 813.97)" font-size="10.8" text-anchor="middle" fill="#111" >2.60</text>
<text transform="matrix(0.91 0 0 1 366 835.3)" font-size="10.8" text-anchor="end" fill="#111" >Итого</text>
<text transform="matrix(0.91 0 0 1 391.7 835.3)" font-size="10.8" text-anchor="middle" fill="#111" >363.20</text>
<line x1="656.6" y1="721.5" x2="1200" y2="721.5" stroke="#111" stroke-width="1.3" />
<line x1="656.5" y1="721.6" x2="656.5" y2="890.3" stroke="#111" stroke-width="1.3" />
<line x1="855.5" y1="721.6" x2="855.5" y2="890.3" stroke="#1a1a1a" stroke-width="1.3" />
<line x1="686.5" y1="721.6" x2="686.5" y2="800.2" stroke="#777" stroke-width="1.1" />
<line x1="717.5" y1="721.6" x2="717.5" y2="890.3" stroke="#222" stroke-width="1.2" />
<line x1="748.5" y1="721.6" x2="748.5" y2="800.2" stroke="#444" stroke-width="1.1" />
<line x1="779.5" y1="721.6" x2="779.5" y2="890.3" stroke="#444" stroke-width="1.2" />
<line x1="825.5" y1="721.6" x2="825.5" y2="890.3" stroke="#444" stroke-width="1.2" />
<line x1="656.6" y1="736.5" x2="855.8" y2="736.5" stroke="#999" stroke-width="1.2" />
<line x1="656.6" y1="752.5" x2="855.8" y2="752.5" stroke="#222" stroke-width="1.2" />
<line x1="656.6" y1="767.5" x2="855.8" y2="767.5" stroke="#333" stroke-width="1.1" />
<line x1="656.6" y1="783.5" x2="855.8" y2="783.5" stroke="#999" stroke-width="1.3" />
<line x1="656.6" y1="800.5" x2="855.8" y2="800.5" stroke="#222" stroke-width="1.3" />
<line x1="656.6" y1="813.5" x2="855.8" y2="813.5" stroke="#777" stroke-width="1.1" />
<line x1="656.6" y1="829.5" x2="855.8" y2="829.5" stroke="#999" stroke-width="1.2" />
<line x1="656.6" y1="844.5" x2="855.8" y2="844.5" stroke="#222" stroke-width="1.3" />
<line x1="656.6" y1="859.5" x2="855.8" y2="859.5" stroke="#777" stroke-width="1.1" />
<line x1="656.6" y1="875.5" x2="855.8" y2="875.5" stroke="#999" stroke-width="1.2" />
<text x="659.8" y="795.2" font-size="12.3" text-anchor="start" fill="#111" >Изм.</text>
<text x="688.2" y="795.2" font-size="12.3" fill="#111">Кол.</text>
<text x="718.5" y="795.2" font-size="12.3" text-anchor="start" fill="#111" >Лист</text>
<text x="749" y="795.2" font-size="9.9" text-anchor="start" fill="#111" >№док.</text>
<text x="782.3" y="795.2" font-size="12.3" text-anchor="start" fill="#111" >Подп.</text>
<text x="826" y="795.2" font-size="12.3" text-anchor="start" fill="#111" >Дата</text>
<text x="659.1" y="826" font-size="10.8" fill="#111" textLength="47" lengthAdjust="spacingAndGlyphs">Разработал</text>
<text x="721.7" y="824.8" font-size="10.8" fill="#111" textLength="45.5" lengthAdjust="spacingAndGlyphs">Шабалина</text>
<text x="829.5" y="826.7" font-size="11.2" fill="#111" textLength="20.5" lengthAdjust="spacingAndGlyphs">07.21</text>
<text x="658.7" y="855.8" font-size="10.8" fill="#111" textLength="35.4" lengthAdjust="spacingAndGlyphs">Н. контр.</text>
<text x="721.7" y="855.8" font-size="10.8" fill="#111" textLength="51.8" lengthAdjust="spacingAndGlyphs">Двоеглазов</text>
<text x="829.5" y="857.5" font-size="11.2" fill="#111" textLength="20.5" lengthAdjust="spacingAndGlyphs">07.21</text>
<text x="658.7" y="872.2" font-size="10.8" fill="#111" textLength="16.3" lengthAdjust="spacingAndGlyphs">ГИП</text>
<text x="724.5" y="871.5" font-size="10.8" fill="#111" textLength="45.5" lengthAdjust="spacingAndGlyphs">Коротаев</text>
<text x="829.5" y="872.9" font-size="11.2" fill="#111" textLength="20.5" lengthAdjust="spacingAndGlyphs">07.21</text>
<path d="M783,814.3 Q784,811.8 787.5,813.2 M791.3,809.6 C789.5,815 788,822 787.8,826 Q788.5,827.5 790,824 L792.4,817 Q791.2,823 792.3,826.5 Q794,826.5 795.2,817 Q794.8,823 796,826.8 Q797.5,827 798.5,823.5 Q801,820 801.7,823.5 Q801,827 799,826 Q798.5,823 801.5,822 Q802.5,825 803,827.5 M803,827.8 C805,822 807.5,815 809.5,810.5 Q810.5,811 809,818 C807.5,826 807,834 806.8,841 Q805.5,843 804.2,840 Q803.5,835 806,830 L810,823 M799.5,843 Q797.5,840 799,834 Q801,829 804,824 M799.5,843 Q801,844 801.8,840 L803.5,830 M808,818 L817.7,812.3 Q818.5,812 817.5,813.5 L810.8,826.8 M811.5,826.5 L818,821.5 M817.3,826.3 Q820,823 823,822.5 L827.5,822.5" stroke="#111" stroke-width="1.3" fill="none" stroke-linecap="round" stroke-linejoin="round"/>
<path d="M787.2,864.4 L804.4,845 M801.9,850 Q799,855 800.5,856 Q803,857 806,855 Q809,853 810.5,853.5 Q806,856 808.5,856 Q818,849 832.8,847.2" stroke="#111" stroke-width="1.3" fill="none" stroke-linecap="round" stroke-linejoin="round"/>
<path d="M801,862 C796,861 788,868 786.3,873.5 C785.5,877 790,877 795,873 C800,869 803,864 801.5,862 M803,862 C797,863 790,870 789.5,874.5 C789,877.5 794,876 798,872 M795,866 C799,864 805,864 804,867 C803,871 800,873 800.5,875.5 C802,876 805,872 808,868 L819.4,854.4 M801.5,873.5 L818,857 M806,873 L821.7,858.9 M809,872 L815,866 M802.2,883.9 L811.1,866.7" stroke="#111" stroke-width="1.3" fill="none" stroke-linecap="round" stroke-linejoin="round"/>
<line x1="855.8" y1="752.5" x2="1200" y2="752.5" stroke="#222" stroke-width="1.3" />
<line x1="855.8" y1="800.5" x2="1200" y2="800.5" stroke="#222" stroke-width="1.3" />
<line x1="855.8" y1="844.5" x2="1200" y2="844.5" stroke="#222" stroke-width="1.3" />
<line x1="1070.5" y1="800.2" x2="1070.5" y2="890.3" stroke="#222" stroke-width="1.3" />
<line x1="1116.5" y1="800.2" x2="1116.5" y2="844.4" stroke="#222" stroke-width="1.3" />
<line x1="1162.5" y1="800.2" x2="1162.5" y2="844.4" stroke="#222" stroke-width="1.3" />
<line x1="1070.2" y1="815.5" x2="1200" y2="815.5" stroke="#222" stroke-width="1.2" />
<text x="1043.4" y="742.14" font-size="12.9" text-anchor="middle" fill="#111" >11-21П-АР</text>
<text x="1049.3" y="764" font-size="12.05" text-anchor="middle" fill="#111" >Реконструкция здания склада, расположенное по адресу:</text>
<text x="1049.8" y="778.5" font-size="12.05" text-anchor="middle" fill="#111" >г. Киров, Ленинский район, ул. Маклина, д. 77 (кадастровый</text>
<text x="1049.3" y="792.5" font-size="12.05" text-anchor="middle" fill="#111" >номер земельного участка 43:40:000314:457</text>
<text x="969.6" y="825.83" font-size="10.65" text-anchor="middle" fill="#111" font-style="italic" >ООО "ИРИДА-43"</text>
<text x="1073" y="812.6" font-size="12.75" text-anchor="start" fill="#111" >Стадия</text>
<text x="1124.8" y="812.6" font-size="12.3" text-anchor="start" fill="#111" >Лист</text>
<text x="1168.5" y="812.6" font-size="12.3" text-anchor="start" fill="#111" >Листов</text>
<text x="1094.4" y="834.03" font-size="12.3" text-anchor="middle" fill="#111" >ЭП</text>
<text x="1142.7" y="834.03" font-size="12.3" text-anchor="middle" fill="#111" >13</text>
<text x="1188.3" y="834.03" font-size="12.3" text-anchor="middle" fill="#111" >18</text>
<text x="969.6" y="868.48" font-size="10.77" text-anchor="middle" fill="#111" >Маркировочный план 2-го этажа</text>
<text x="1149" y="870.18" font-size="13" text-anchor="middle" fill="#111" >ООО "Альянс"</text>
</svg></body></html>
